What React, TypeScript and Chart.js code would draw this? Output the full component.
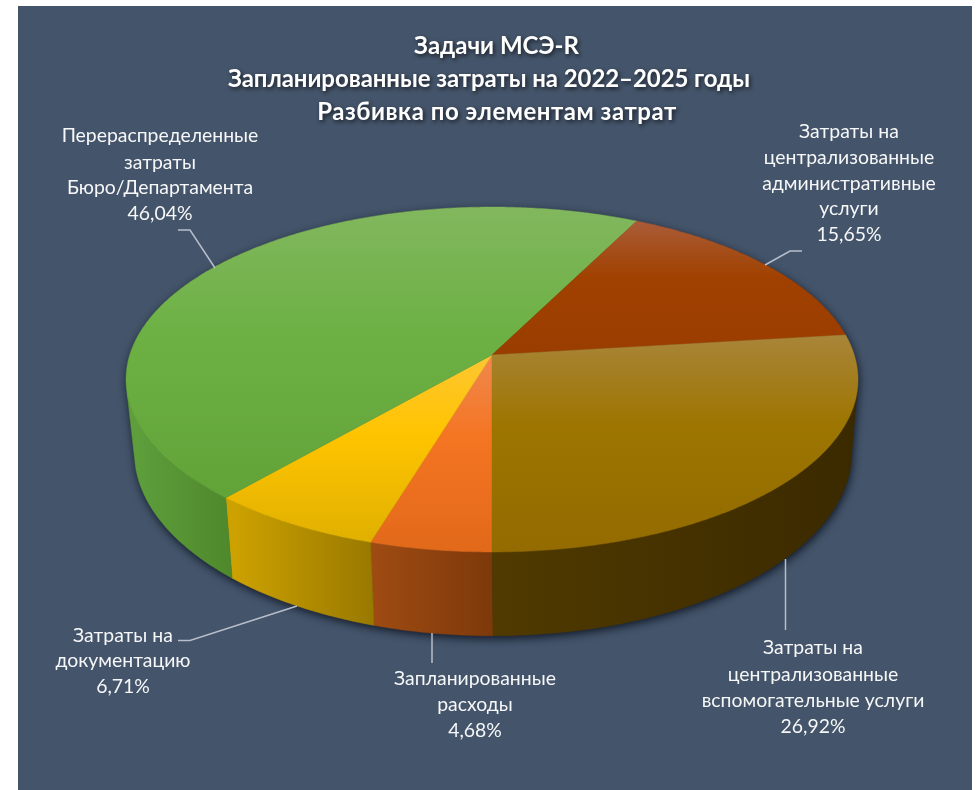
import React, { useEffect, useRef } from "react";
import { Chart, registerables } from "chart.js";

Chart.register(...registerables);

const categories = [
  "Запланированные расходы",
  "Затраты на документацию",
  "Перераспределенные затраты Бюро/Департамента",
  "Затраты на централизованные административные услуги",
  "Затраты на централизованные вспомогательные услуги",
];
const values = [4.68, 6.71, 46.04, 15.65, 26.92];
const valueLabels = ["4,68%", "6,71%", "46,04%", "15,65%", "26,92%"];
const labelLines = [
  ["Запланированные", "расходы"],
  ["Затраты на", "документацию"],
  ["Перераспределенные", "затраты", "Бюро/Департамента"],
  ["Затраты на", "централизованные", "административные", "услуги"],
  ["Затраты на", "централизованные", "вспомогательные услуги"],
];
const titleLines = [
  "Задачи МСЭ-R",
  "Запланированные затраты на 2022–2025 годы",
  "Разбивка по элементам затрат",
];

// styling
const topColors = [
  ["#f0884e", "#f47522", "#e2691a"],
  ["#fdc632", "#ffc400", "#e0b000"],
  ["#82b75e", "#6db145", "#62a338"],
  ["#aa5c38", "#a04100", "#9a3d00"],
  ["#a98539", "#9d7500", "#936b00"],
];
const wallColors = [
  ["#9e4b12", "#7d390a"],
  ["#cda200", "#987800"],
  ["#5e9e3b", "#4e882c"],
  ["#7a3000", "#6a2800"],
  ["#503a00", "#3b2a00"],
];

// perspective of the disc: top and bottom planes
const TOP = { cx: 492, cy: 355, a: 362.3, b: 169, k: 0.142 };
const BOT = { cx: 493, cy: 426, a: 355, b: 180, k: 0.142 };
const SILHOUETTE = 0.22; // rim angle where the wall meets the outline
type Plane = typeof TOP;
const project = (p: Plane, ang: number): [number, number] => {
  const u = Math.cos(ang);
  const v = Math.sin(ang);
  const d = 1 - p.k * v;
  return [p.cx + (p.a * u) / d, p.cy + (p.b * v) / d];
};
const arcPoints = (p: Plane, s: number, e: number) => {
  const n = Math.max(4, Math.ceil(Math.abs(e - s) / 0.01));
  const out: [number, number][] = [];
  for (let i = 0; i <= n; i++) out.push(project(p, s + ((e - s) * i) / n));
  return out;
};
const visibleWall = (s: number, e: number): [number, number] | null => {
  for (const off of [-2 * Math.PI, 0, 2 * Math.PI]) {
    const a = Math.max(s, SILHOUETTE + off);
    const b = Math.min(e, Math.PI - SILHOUETTE + off);
    if (b > a) return [a, b];
  }
  return null;
};

const titlePlacement = [
  { x: 496.5, y: 46, spacing: 0 },
  { x: 489, y: 79, spacing: -0.07 },
  { x: 497, y: 112, spacing: 0.53 },
];
const labelBoxes = [
  { x: 475, y: [679, 705, 731] },
  { x: 123, y: [636, 661, 687] },
  { x: 160, y: [136, 163, 188, 214] },
  { x: 849, y: [132, 158, 184, 209, 235] },
  { x: 813, y: [648, 675, 701, 727] },
];
const leaders: [number, number][][] = [
  [[432, 633], [432, 663]],
  [[297, 606], [190, 640.5], [178, 640.5]],
  [[178, 230], [190, 230], [215, 268]],
  [[802, 251], [790, 251], [765, 265]],
  [[785.5, 559], [785.5, 630]],
];

const pie3d = {
  id: "pie3d",
  beforeDatasetDraw(chart: any, args: any) {
    const c: CanvasRenderingContext2D = chart.ctx;
    const arcs = chart.getDatasetMeta(args.index).data;

    // soft shadow under the disc
    c.save();
    c.shadowColor = "rgba(12,20,34,0.9)";
    c.shadowBlur = 9;
    c.shadowOffsetX = 1;
    c.shadowOffsetY = 3;
    c.fillStyle = "#1d2838";
    c.beginPath();
    const back = arcPoints(TOP, Math.PI - SILHOUETTE, 2 * Math.PI + SILHOUETTE);
    const front = arcPoints(BOT, SILHOUETTE, Math.PI - SILHOUETTE);
    [...back, ...front].forEach(([x, y], i) => (i ? c.lineTo(x, y) : c.moveTo(x, y)));
    c.closePath();
    c.fill();
    c.restore();

    // walls
    arcs.forEach((arc: any, i: number) => {
      const range = visibleWall(arc.startAngle, arc.endAngle);
      if (!range) return;
      const top = arcPoints(TOP, range[0], range[1]);
      const bot = arcPoints(BOT, range[0], range[1]);
      const xs = bot.map((q) => q[0]);
      const g = c.createLinearGradient(Math.min(...xs), 0, Math.max(...xs) + 1, 0);
      g.addColorStop(0, wallColors[i][0]);
      g.addColorStop(1, wallColors[i][1]);
      c.fillStyle = g;
      c.strokeStyle = g;
      c.lineWidth = 0.5;
      c.beginPath();
      top.forEach(([x, y], j) => (j ? c.lineTo(x, y) : c.moveTo(x, y)));
      bot.reverse().forEach(([x, y]) => c.lineTo(x, y));
      c.closePath();
      c.fill();
      c.stroke();
    });

    // top faces
    arcs.forEach((arc: any, i: number) => {
      const pts = arcPoints(TOP, arc.startAngle, arc.endAngle);
      const ys = pts.map((q) => q[1]).concat(TOP.cy);
      const y0 = Math.min(...ys);
      const y1 = Math.max(...ys);
      const g = c.createLinearGradient(0, y0, 0, y1);
      g.addColorStop(0, topColors[i][0]);
      g.addColorStop(0.42, topColors[i][1]);
      g.addColorStop(1, topColors[i][2]);
      c.fillStyle = g;
      c.strokeStyle = g;
      c.lineWidth = 0.5;
      c.beginPath();
      c.moveTo(TOP.cx, TOP.cy);
      pts.forEach(([x, y]) => c.lineTo(x, y));
      c.closePath();
      c.fill();
      c.stroke();
    });
    return false;
  },
  afterDraw(chart: any) {
    const c: CanvasRenderingContext2D = chart.ctx;
    c.save();
    c.strokeStyle = "rgba(190,196,208,0.95)";
    c.lineWidth = 1.5;
    leaders.forEach((l) => {
      c.beginPath();
      l.forEach(([x, y], i) => (i ? c.lineTo(x, y) : c.moveTo(x, y)));
      c.stroke();
    });
    c.textAlign = "center";
    c.textBaseline = "middle";
    c.fillStyle = "#f6f7f8";
    c.font = "19.4px Lato, 'Open Sans', sans-serif";
    labelLines.forEach((lines, i) => {
      const box = labelBoxes[i];
      [...lines, valueLabels[i]].forEach((t, j) => c.fillText(t, box.x, box.y[j]));
    });
    c.save();
    c.shadowColor = "rgba(0,0,0,0.65)";
    c.shadowBlur = 4;
    c.shadowOffsetX = 1.5;
    c.shadowOffsetY = 2;
    c.fillStyle = "#ffffff";
    c.font = "bold 24px Lato, 'Open Sans', sans-serif";
    titleLines.forEach((t, i) => {
      const p = titlePlacement[i];
      (c as any).letterSpacing = `${p.spacing}px`;
      c.fillText(t, p.x, p.y);
    });
    c.restore();
    c.restore();
  },
};

export default function App() {
  const ref = useRef<HTMLCanvasElement>(null);
  useEffect(() => {
    const chart = new Chart(ref.current!, {
      type: "pie",
      data: {
        labels: categories,
        datasets: [{ data: values, backgroundColor: topColors.map((t) => t[1]), borderWidth: 0 }],
      },
      options: {
        animation: false,
        responsive: false,
        rotation: 180,
        layout: { padding: 0 },
        plugins: {
          legend: { display: false },
          tooltip: { enabled: false },
          title: { display: false },
        },
      },
      plugins: [pie3d],
    } as any);
    return () => chart.destroy();
  }, []);
  return (
    <div style={{ position: "fixed", left: 0, top: 0, width: 979, height: 790, background: "#ffffff" }}>
      <div style={{ position: "absolute", left: 18, top: 6, width: 954, height: 784, background: "#44546a" }} />
      <canvas ref={ref} width={979} height={790} style={{ position: "absolute", left: 0, top: 0 }} />
    </div>
  );
}
